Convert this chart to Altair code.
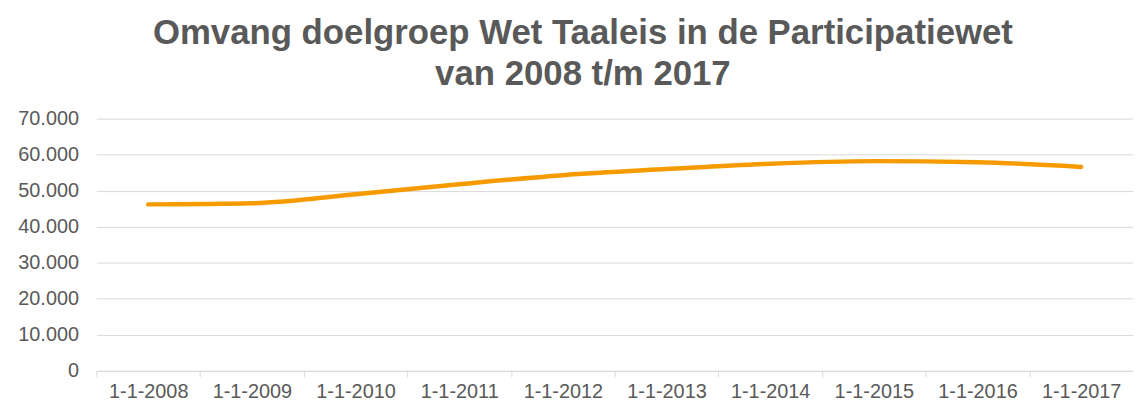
import altair as alt
import pandas as pd

categories = ["1-1-2008", "1-1-2009", "1-1-2010", "1-1-2011", "1-1-2012",
              "1-1-2013", "1-1-2014", "1-1-2015", "1-1-2016", "1-1-2017"]
values = [46200, 46500, 49000, 51800, 54300, 56000, 57500, 58200, 57900, 56600]
y_ticks = [0, 10000, 20000, 30000, 40000, 50000, 60000, 70000]

df = pd.DataFrame({"datum": categories, "aantal": values})

GREY = "#595959"

chart = alt.Chart(df).mark_line(
    color="#f59b00", strokeWidth=4.5, interpolate="monotone", strokeCap="round"
).encode(
    x=alt.X("datum:N", sort=categories, bandPosition=0.5,
            scale=alt.Scale(type="band", paddingInner=0, paddingOuter=0),
            axis=alt.Axis(title=None, labelAngle=0, tickBand="extent",
                          labelFontSize=20, labelColor=GREY, labelFont="Liberation Sans",
                          domainColor="#d9d9d9", tickColor="#d9d9d9", tickSize=6,
                          labelPadding=5, grid=False)),
    y=alt.Y("aantal:Q", scale=alt.Scale(domain=[0, 70000]),
            axis=alt.Axis(title=None, values=y_ticks, domain=False, ticks=False,
                          labelFontSize=20, labelColor=GREY, labelFont="Liberation Sans",
                          labelPadding=18, gridColor="#d9d9d9", gridWidth=1,
                          labelExpr="replace(format(datum.value, ',d'), regexp(',', 'g'), '.')")),
).properties(
    width=1044, height=254,
    title=alt.TitleParams(
        text=["Omvang doelgroep Wet Taaleis in de Participatiewet", "van 2008 t/m 2017"],
        font="Liberation Sans", fontSize=35, fontWeight="bold", color=GREY,
        anchor="middle", lineHeight=41, offset=17, dx=-32,
    ),
    autosize=alt.AutoSizeParams(type="none"),
    padding={"left": 89, "top": 110, "right": 0, "bottom": 31},
).configure_view(stroke=None)

chart.save("out.html", embed_options={"renderer": "svg", "actions": False})
